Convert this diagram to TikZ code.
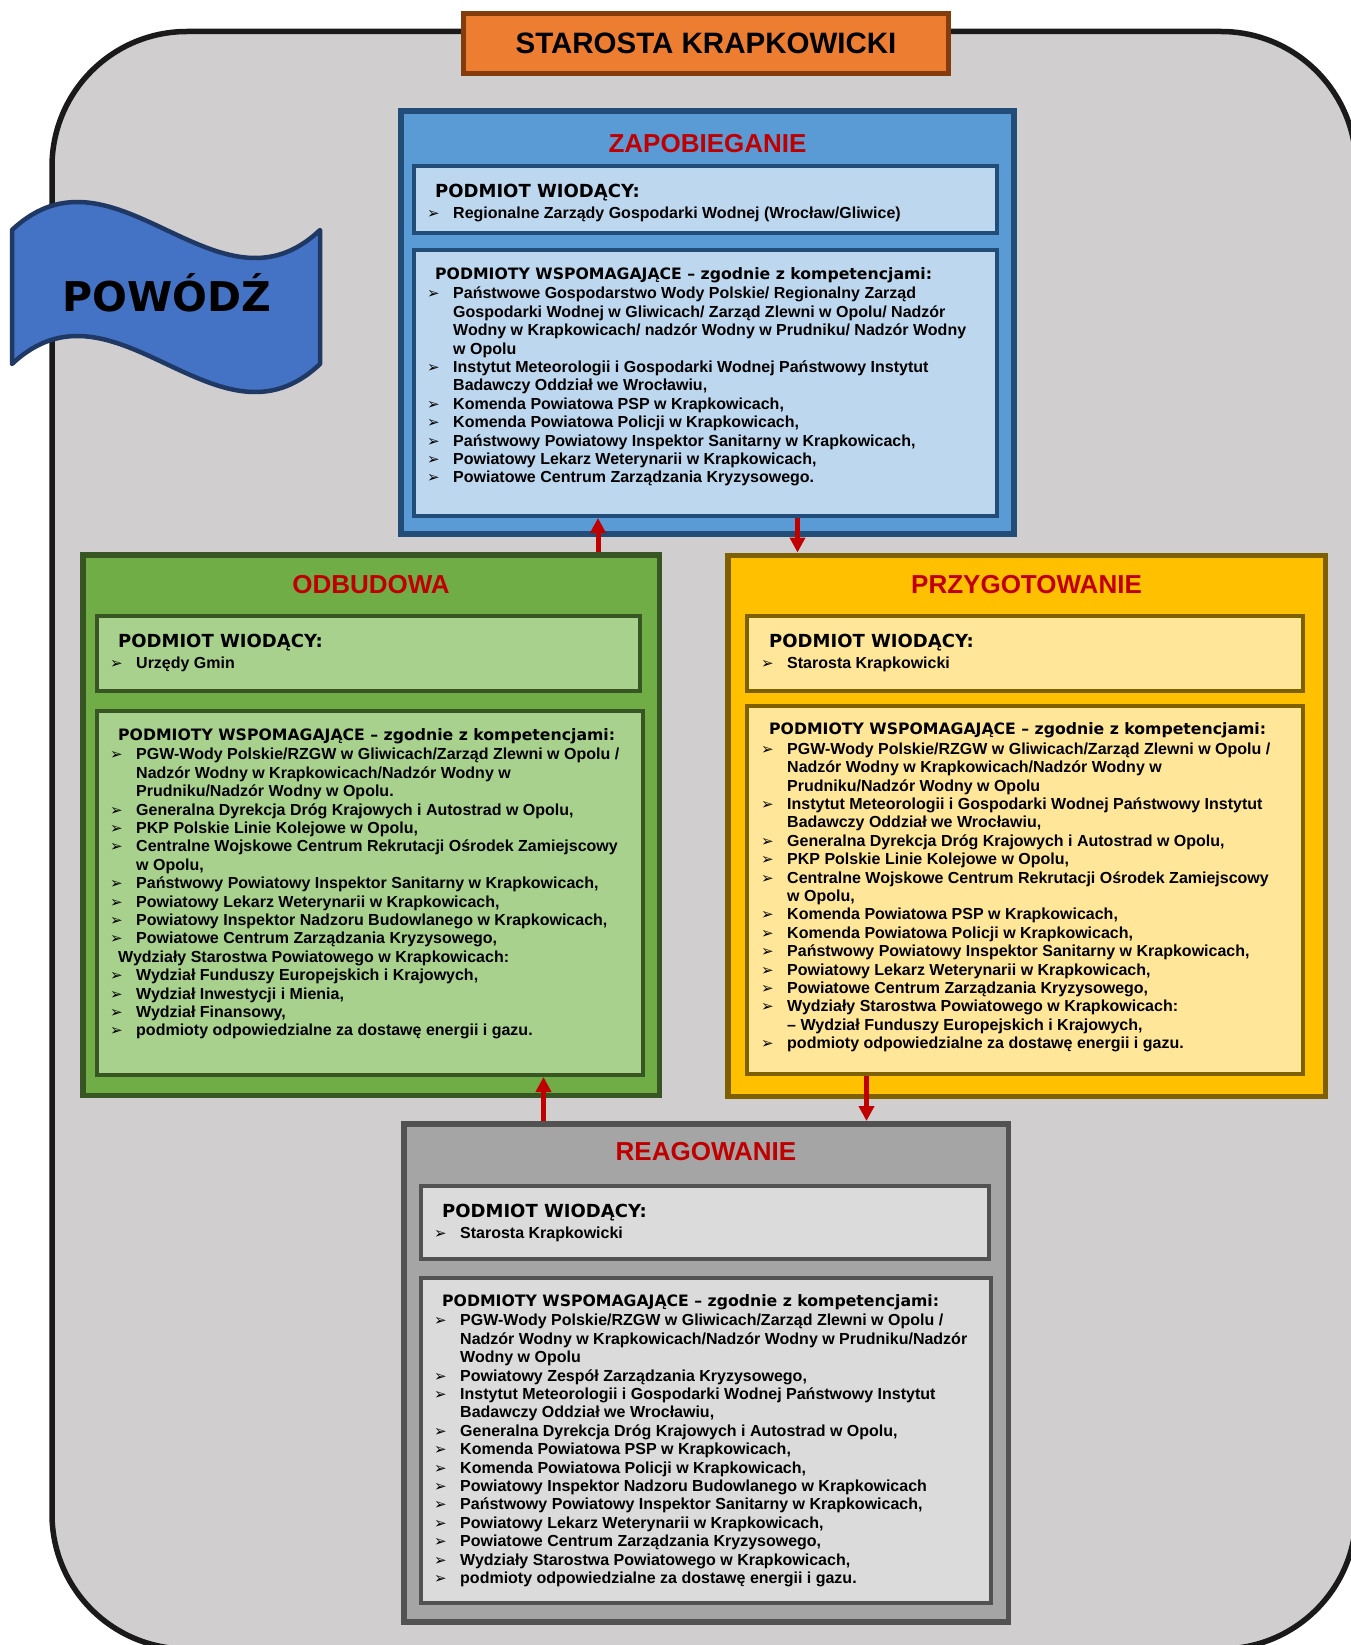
\documentclass[tikz,border=0pt]{standalone}
\usepackage{fontspec}
\setmainfont{Liberation Sans}
\newfontfamily\headfont{DejaVu Sans}
\newfontfamily\dingfont{DejaVu Sans}
\usetikzlibrary{arrows.meta,positioning}

\definecolor{bggray}{HTML}{D0CECE}
\definecolor{framedark}{HTML}{1A1A1A}
\definecolor{starorange}{HTML}{ED7D31}
\definecolor{stardark}{HTML}{843C0C}
\definecolor{bannerblue}{HTML}{4472C4}
\definecolor{bannerdark}{HTML}{203864}
\definecolor{zapblue}{HTML}{5B9BD5}
\definecolor{zaplight}{HTML}{BDD7EE}
\definecolor{zapdark}{HTML}{224D78}
\definecolor{odbgreen}{HTML}{70AD47}
\definecolor{odblight}{HTML}{A9D18E}
\definecolor{odbdark}{HTML}{375623}
\definecolor{przyellow}{HTML}{FFC000}
\definecolor{przlight}{HTML}{FFE699}
\definecolor{przdark}{HTML}{7F6000}
\definecolor{reagray}{HTML}{A5A5A5}
\definecolor{realight}{HTML}{DBDBDB}
\definecolor{readark}{HTML}{525252}
\definecolor{titlered}{HTML}{C00000}

% bullets and lists
\newcommand{\bul}{\makebox[26pt][l]{\dingfont\mdseries\fontsize{15}{15}\selectfont ➢}}
\newcommand{\itm}{\par\hangindent=26pt\hangafter=1\noindent\bul}
\newcommand{\leadlist}[1]{\parbox[t]{600pt}{\fontsize{16}{18.4}\selectfont\bfseries
  \hspace*{8pt}{\headfont\fontsize{18}{20}\selectfont PODMIOT WIODĄCY:}\par\vspace{2.6pt}#1}}
\newcommand{\helplist}[1]{\parbox[t]{600pt}{\fontsize{16}{18.4}\selectfont\bfseries
  \hspace*{8pt}{\headfont\fontsize{15.7}{18}\selectfont PODMIOTY WSPOMAGAJĄCE – zgodnie z kompetencjami:}\par\vspace{1.4pt}#1}}

\begin{document}
\begin{tikzpicture}[x=1pt, y=-1pt,
    >={Triangle[length=15pt,width=15pt]},
    phasebox/.style={rectangle, line width=5.5pt},
    inbox/.style={rectangle, line width=4pt},
    phasetitle/.style={anchor=base, inner sep=0pt, text=titlered, font=\bfseries\fontsize{26}{26}\selectfont},
    listtext/.style={anchor=base west, inner sep=0pt},
    flow/.style={draw=titlered, line width=5pt}]

    \useasboundingbox (0,0) rectangle (1350,1645);
    \fill[white] (0,0) rectangle (1350,1645);
    \draw[draw=framedark, fill=bggray, line width=5.5pt, rounded corners=135pt] (52,31.5) rectangle (1356,1649);

    % banner
    \draw[draw=bannerdark, fill=bannerblue, line width=4.5pt, line join=round]
        (12,230) .. controls (115,133) and (218,327) .. (320,230) -- (320,364)
        .. controls (218,461) and (115,267) .. (12,364) -- cycle;
    \node[anchor=base, inner sep=0pt, font=\headfont\bfseries\fontsize{41}{41}\selectfont] (flood) at (166.5,311.5) {POWÓDŹ};

    \node[rectangle, draw=stardark, fill=starorange, line width=5pt, minimum width=485pt, minimum height=60pt, inner sep=0pt,
        font=\bfseries\fontsize{29.5}{29.5}\selectfont] (star) at (706,43.4) {STAROSTA KRAPKOWICKI};

    % ZAPOBIEGANIE
    \node[phasebox, draw=zapdark, fill=zapblue, minimum width=613pt, minimum height=423pt] (zap) at (707.5,322.5) {};
    \node[phasetitle] (zapT) at ([yshift=-44pt]zap.north) {ZAPOBIEGANIE};
    \node[inbox, draw=zapdark, fill=zaplight, minimum width=583pt, minimum height=67pt] (zapL) at (705.5,199.5) {};
    \node[inbox, draw=zapdark, fill=zaplight, minimum width=583pt, minimum height=266pt] (zapH) at (705.5,383) {};
    \node[listtext] (zapLt) at ([shift={(15,34)}]zapL.north west) {\leadlist{%
        \itm Regionalne Zarządy Gospodarki Wodnej (Wrocław/Gliwice)}};
    \node[listtext] (zapHt) at ([shift={(15,31)}]zapH.north west) {\helplist{%
        \itm Państwowe Gospodarstwo Wody Polskie/ Regionalny Zarząd\\ Gospodarki Wodnej w Gliwicach/ Zarząd Zlewni w Opolu/ Nadzór\\ Wodny w Krapkowicach/ nadzór Wodny w Prudniku/ Nadzór Wodny\\ w Opolu
        \itm Instytut Meteorologii i Gospodarki Wodnej Państwowy Instytut\\ Badawczy Oddział we Wrocławiu,
        \itm Komenda Powiatowa PSP w Krapkowicach,
        \itm Komenda Powiatowa Policji w Krapkowicach,
        \itm Państwowy Powiatowy Inspektor Sanitarny w Krapkowicach,
        \itm Powiatowy Lekarz Weterynarii w Krapkowicach,
        \itm Powiatowe Centrum Zarządzania Kryzysowego.}};

    % ODBUDOWA
    \node[phasebox, draw=odbdark, fill=odbgreen, minimum width=576.5pt, minimum height=540.5pt] (odb) at (371,825) {};
    \node[phasetitle] (odbT) at ([yshift=-41.6pt]odb.north) {ODBUDOWA};
    \node[inbox, draw=odbdark, fill=odblight, minimum width=543pt, minimum height=75pt] (odbL) at (368.5,653.5) {};
    \node[inbox, draw=odbdark, fill=odblight, minimum width=546pt, minimum height=364pt] (odbH) at (370,893) {};
    \node[listtext] (odbLt) at ([shift={(15,33)}]odbL.north west) {\leadlist{%
        \itm Urzędy Gmin}};
    \node[listtext] (odbHt) at ([shift={(15,31)}]odbH.north west) {\helplist{%
        \itm PGW-Wody Polskie/RZGW w Gliwicach/Zarząd Zlewni w Opolu /\\ Nadzór Wodny w Krapkowicach/Nadzór Wodny w\\ Prudniku/Nadzór Wodny w Opolu.
        \itm Generalna Dyrekcja Dróg Krajowych i Autostrad w Opolu,
        \itm PKP Polskie Linie Kolejowe w Opolu,
        \itm Centralne Wojskowe Centrum Rekrutacji Ośrodek Zamiejscowy\\ w Opolu,
        \itm Państwowy Powiatowy Inspektor Sanitarny w Krapkowicach,
        \itm Powiatowy Lekarz Weterynarii w Krapkowicach,
        \itm Powiatowy Inspektor Nadzoru Budowlanego w Krapkowicach,
        \itm Powiatowe Centrum Zarządzania Kryzysowego,
        \par\noindent\hspace*{8pt}Wydziały Starostwa Powiatowego w Krapkowicach:
        \itm Wydział Funduszy Europejskich i Krajowych,
        \itm Wydział Inwestycji i Mienia,
        \itm Wydział Finansowy,
        \itm podmioty odpowiedzialne za dostawę energii i gazu.}};

    % PRZYGOTOWANIE
    \node[phasebox, draw=przdark, fill=przyellow, minimum width=597.5pt, minimum height=541pt] (prz) at (1026.5,825.75) {};
    \node[phasetitle] (przT) at ([yshift=-41pt]prz.north) {PRZYGOTOWANIE};
    \node[inbox, draw=przdark, fill=przlight, minimum width=556pt, minimum height=75pt] (przL) at (1025,653.5) {};
    \node[inbox, draw=przdark, fill=przlight, minimum width=556pt, minimum height=368.5pt] (przH) at (1025,889.75) {};
    \node[listtext] (przLt) at ([shift={(16,33)}]przL.north west) {\leadlist{%
        \itm Starosta Krapkowicki}};
    \node[listtext] (przHt) at ([shift={(16,31)}]przH.north west) {\helplist{%
        \itm PGW-Wody Polskie/RZGW w Gliwicach/Zarząd Zlewni w Opolu /\\ Nadzór Wodny w Krapkowicach/Nadzór Wodny w\\ Prudniku/Nadzór Wodny w Opolu
        \itm Instytut Meteorologii i Gospodarki Wodnej Państwowy Instytut\\ Badawczy Oddział we Wrocławiu,
        \itm Generalna Dyrekcja Dróg Krajowych i Autostrad w Opolu,
        \itm PKP Polskie Linie Kolejowe w Opolu,
        \itm Centralne Wojskowe Centrum Rekrutacji Ośrodek Zamiejscowy\\ w Opolu,
        \itm Komenda Powiatowa PSP w Krapkowicach,
        \itm Komenda Powiatowa Policji w Krapkowicach,
        \itm Państwowy Powiatowy Inspektor Sanitarny w Krapkowicach,
        \itm Powiatowy Lekarz Weterynarii w Krapkowicach,
        \itm Powiatowe Centrum Zarządzania Kryzysowego,
        \itm Wydziały Starostwa Powiatowego w Krapkowicach:\\ – Wydział Funduszy Europejskich i Krajowych,
        \itm podmioty odpowiedzialne za dostawę energii i gazu.}};

    % REAGOWANIE
    \node[phasebox, draw=readark, fill=reagray, minimum width=604.5pt, minimum height=498pt] (rea) at (706,1372.75) {};
    \node[phasetitle] (reaT) at ([yshift=-39.5pt]rea.north) {REAGOWANIE};
    \node[inbox, draw=readark, fill=realight, minimum width=567.6pt, minimum height=73pt] (reaL) at (704.8,1222.5) {};
    \node[inbox, draw=readark, fill=realight, minimum width=570pt, minimum height=325.5pt] (reaH) at (706,1440.25) {};
    \node[listtext] (reaLt) at ([shift={(15,33.5)}]reaL.north west) {\leadlist{%
        \itm Starosta Krapkowicki}};
    \node[listtext] (reaHt) at ([shift={(15,30.5)}]reaH.north west) {\helplist{%
        \itm PGW-Wody Polskie/RZGW w Gliwicach/Zarząd Zlewni w Opolu /\\ Nadzór Wodny w Krapkowicach/Nadzór Wodny w Prudniku/Nadzór\\ Wodny w Opolu
        \itm Powiatowy Zespół Zarządzania Kryzysowego,
        \itm Instytut Meteorologii i Gospodarki Wodnej Państwowy Instytut\\ Badawczy Oddział we Wrocławiu,
        \itm Generalna Dyrekcja Dróg Krajowych i Autostrad w Opolu,
        \itm Komenda Powiatowa PSP w Krapkowicach,
        \itm Komenda Powiatowa Policji w Krapkowicach,
        \itm Powiatowy Inspektor Nadzoru Budowlanego w Krapkowicach
        \itm Państwowy Powiatowy Inspektor Sanitarny w Krapkowicach,
        \itm Powiatowy Lekarz Weterynarii w Krapkowicach,
        \itm Powiatowe Centrum Zarządzania Kryzysowego,
        \itm Wydziały Starostwa Powiatowego w Krapkowicach,
        \itm podmioty odpowiedzialne za dostawę energii i gazu.}};

    % cycle arrows
    \coordinate (up1) at (598,0);
    \coordinate (dn1) at (797.5,0);
    \coordinate (dn2) at (866.5,0);
    \coordinate (up2) at (543.5,0);
    \draw[flow,->] (odb.north -| up1) -- (zapH.south -| up1);
    \draw[flow,->] (zapH.south -| dn1) -- (prz.north -| dn1);
    \draw[flow,->] (przH.south -| dn2) -- (rea.north -| dn2);
    \draw[flow,->] (rea.north -| up2) -- (odbH.south -| up2);

\end{tikzpicture}
\end{document}
